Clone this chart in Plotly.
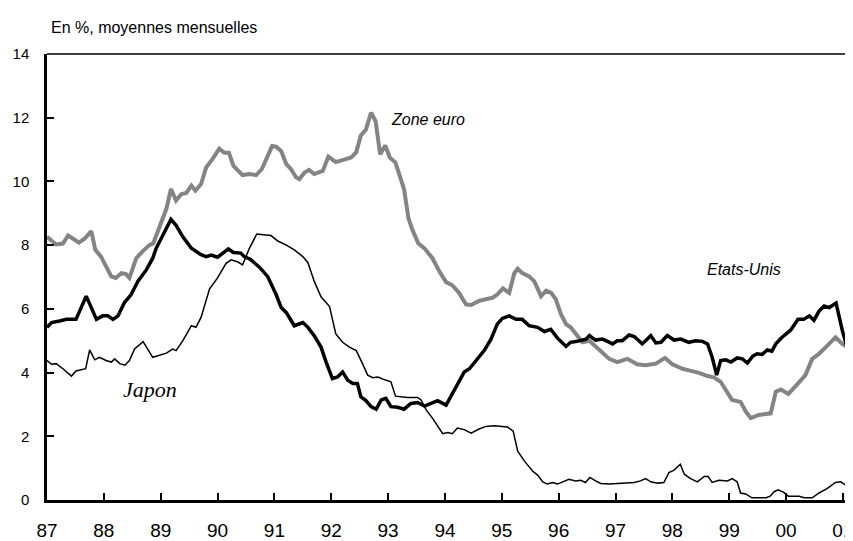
import plotly.graph_objects as go

# ---- axis ticks ----
tick_years = list(range(1987, 2002))
tick_labels = ["87", "88", "89", "90", "91", "92", "93", "94", "95", "96", "97", "98", "99", "00", "01"]
y_ticks = [0, 2, 4, 6, 8, 10, 12, 14]

# ---- Zone euro (decimal year, %) ----
eu_t = [1987.00, 1987.16, 1987.28, 1987.37, 1987.46, 1987.56, 1987.66, 1987.78, 1987.85, 1987.95,
        1988.13, 1988.21, 1988.31, 1988.39, 1988.45, 1988.57, 1988.69, 1988.80, 1988.87, 1988.98,
        1989.10, 1989.18, 1989.27, 1989.36, 1989.45, 1989.54, 1989.61, 1989.71, 1989.80, 1989.91,
        1990.03, 1990.12, 1990.20, 1990.28, 1990.44, 1990.56, 1990.68, 1990.78, 1990.86, 1990.96,
        1991.03, 1991.12, 1991.21, 1991.29, 1991.38, 1991.44, 1991.53, 1991.61, 1991.70, 1991.85,
        1991.95, 1992.08, 1992.20, 1992.35, 1992.44, 1992.52, 1992.61, 1992.70, 1992.78, 1992.86,
        1992.95, 1993.03, 1993.13, 1993.20, 1993.28, 1993.36, 1993.43, 1993.53, 1993.64, 1993.78,
        1993.90, 1994.02, 1994.13, 1994.25, 1994.37, 1994.46, 1994.60, 1994.72, 1994.84, 1994.92,
        1995.02, 1995.13, 1995.22, 1995.28, 1995.36, 1995.48, 1995.57, 1995.69, 1995.78, 1995.87,
        1995.95, 1996.04, 1996.13, 1996.21, 1996.30, 1996.42, 1996.54, 1996.65, 1996.77, 1996.89,
        1997.03, 1997.21, 1997.38, 1997.53, 1997.71, 1997.87, 1998.00, 1998.18, 1998.29, 1998.47,
        1998.62, 1998.73, 1998.85, 1998.97, 1999.05, 1999.20, 1999.29, 1999.38, 1999.52, 1999.73,
        1999.82, 1999.91, 2000.04, 2000.20, 2000.34, 2000.46, 2000.58, 2000.70, 2000.87, 2000.99,
        2001.16]
eu_v = [8.26, 8.02, 8.05, 8.30, 8.20, 8.08, 8.20, 8.44, 7.85, 7.64,
        7.02, 6.97, 7.12, 7.09, 6.97, 7.59, 7.82, 8.00, 8.06, 8.57,
        9.14, 9.76, 9.40, 9.60, 9.64, 9.87, 9.71, 9.92, 10.44, 10.70,
        11.03, 10.90, 10.90, 10.49, 10.20, 10.23, 10.20, 10.39, 10.70, 11.11,
        11.09, 10.95, 10.54, 10.39, 10.13, 10.07, 10.28, 10.36, 10.23, 10.33,
        10.78, 10.61, 10.67, 10.75, 10.92, 11.44, 11.63, 12.16, 11.89, 10.85,
        11.13, 10.75, 10.59, 10.23, 9.76, 8.83, 8.47, 8.06, 7.90, 7.59,
        7.18, 6.84, 6.74, 6.50, 6.14, 6.12, 6.25, 6.30, 6.35, 6.45,
        6.64, 6.50, 7.12, 7.26, 7.12, 7.02, 6.87, 6.40, 6.57, 6.50,
        6.30, 5.83, 5.52, 5.42, 5.21, 4.95, 5.00, 4.82, 4.59, 4.43,
        4.33, 4.43, 4.26, 4.23, 4.28, 4.46, 4.26, 4.12, 4.07, 3.99,
        3.89, 3.85, 3.71, 3.40, 3.14, 3.08, 2.78, 2.57, 2.67, 2.72,
        3.40, 3.47, 3.33, 3.64, 3.92, 4.43, 4.59, 4.80, 5.11, 4.90,
        4.70]

# ---- Etats-Unis ----
us_t = [1987.00, 1987.08, 1987.22, 1987.34, 1987.51, 1987.69, 1987.87, 1987.98, 1988.07, 1988.16,
        1988.25, 1988.36, 1988.48, 1988.60, 1988.75, 1988.86, 1988.92, 1989.04, 1989.18, 1989.27,
        1989.39, 1989.54, 1989.62, 1989.71, 1989.80, 1989.89, 1990.00, 1990.09, 1990.19, 1990.28,
        1990.41, 1990.47, 1990.58, 1990.74, 1990.88, 1991.03, 1991.12, 1991.21, 1991.35, 1991.50,
        1991.59, 1991.70, 1991.82, 1991.91, 1991.97, 1992.02, 1992.11, 1992.20, 1992.29, 1992.38,
        1992.46, 1992.52, 1992.61, 1992.70, 1992.79, 1992.88, 1992.96, 1993.05, 1993.17, 1993.28,
        1993.40, 1993.52, 1993.64, 1993.75, 1993.87, 1994.02, 1994.11, 1994.22, 1994.34, 1994.43,
        1994.54, 1994.69, 1994.81, 1994.92, 1995.01, 1995.13, 1995.25, 1995.36, 1995.48, 1995.63,
        1995.75, 1995.86, 1995.98, 1996.13, 1996.21, 1996.33, 1996.48, 1996.54, 1996.65, 1996.77,
        1996.86, 1996.95, 1997.03, 1997.12, 1997.24, 1997.33, 1997.47, 1997.62, 1997.71, 1997.80,
        1997.91, 1998.03, 1998.15, 1998.29, 1998.41, 1998.53, 1998.62, 1998.70, 1998.78, 1998.85,
        1998.94, 1999.03, 1999.14, 1999.23, 1999.32, 1999.41, 1999.49, 1999.58, 1999.67, 1999.75,
        1999.82, 1999.93, 2000.08, 2000.21, 2000.31, 2000.41, 2000.49, 2000.58, 2000.67, 2000.76,
        2000.88, 2000.99, 2001.08, 2001.16]
us_v = [5.42, 5.57, 5.62, 5.67, 5.67, 6.40, 5.67, 5.78, 5.78, 5.67,
        5.78, 6.19, 6.45, 6.87, 7.23, 7.59, 7.90, 8.31, 8.81, 8.62,
        8.26, 7.90, 7.80, 7.70, 7.64, 7.69, 7.62, 7.73, 7.88, 7.77,
        7.75, 7.64, 7.55, 7.30, 7.02, 6.45, 6.04, 5.88, 5.47, 5.57,
        5.42, 5.16, 4.80, 4.33, 4.02, 3.81, 3.86, 4.02, 3.76, 3.66,
        3.66, 3.24, 3.12, 2.93, 2.85, 3.14, 3.19, 2.93, 2.91, 2.85,
        3.03, 3.06, 2.95, 3.03, 3.12, 2.98, 3.26, 3.61, 4.02, 4.12,
        4.38, 4.69, 5.05, 5.52, 5.70, 5.78, 5.67, 5.67, 5.47, 5.42,
        5.29, 5.36, 5.08, 4.82, 4.95, 4.98, 5.05, 5.16, 5.02, 5.05,
        4.98, 4.90, 5.00, 5.00, 5.18, 5.13, 4.90, 5.16, 4.93, 4.95,
        5.16, 5.02, 5.05, 4.95, 5.00, 4.98, 4.90, 4.48, 3.92, 4.38,
        4.40, 4.33, 4.46, 4.43, 4.30, 4.51, 4.59, 4.57, 4.71, 4.67,
        4.90, 5.11, 5.33, 5.67, 5.67, 5.78, 5.64, 5.93, 6.09, 6.04,
        6.18, 5.32, 4.75, 4.50]

# ---- Japon ----
jp_t = [1987.00, 1987.08, 1987.16, 1987.28, 1987.43, 1987.51, 1987.68, 1987.75, 1987.84, 1987.92,
        1988.04, 1988.13, 1988.19, 1988.28, 1988.37, 1988.45, 1988.54, 1988.69, 1988.86, 1988.98,
        1989.10, 1989.21, 1989.27, 1989.39, 1989.54, 1989.62, 1989.71, 1989.86, 1990.00, 1990.15,
        1990.24, 1990.36, 1990.44, 1990.56, 1990.69, 1990.85, 1990.94, 1991.06, 1991.21, 1991.35,
        1991.50, 1991.59, 1991.70, 1991.82, 1991.97, 1992.08, 1992.20, 1992.32, 1992.44, 1992.55,
        1992.64, 1992.73, 1992.82, 1992.93, 1993.05, 1993.13, 1993.23, 1993.34, 1993.52, 1993.58,
        1993.67, 1993.78, 1993.96, 1994.05, 1994.13, 1994.22, 1994.34, 1994.46, 1994.60, 1994.72,
        1994.87, 1994.98, 1995.10, 1995.20, 1995.28, 1995.40, 1995.54, 1995.63, 1995.72, 1995.80,
        1995.89, 1995.98, 1996.07, 1996.18, 1996.30, 1996.39, 1996.47, 1996.55, 1996.65, 1996.74,
        1996.89, 1997.06, 1997.18, 1997.33, 1997.44, 1997.53, 1997.62, 1997.74, 1997.85, 1997.94,
        1998.03, 1998.14, 1998.21, 1998.32, 1998.44, 1998.56, 1998.63, 1998.70, 1998.82, 1998.97,
        1999.05, 1999.14, 1999.20, 1999.29, 1999.40, 1999.65, 1999.72, 1999.79, 1999.86, 1999.96,
        2000.04, 2000.14, 2000.23, 2000.32, 2000.46, 2000.58, 2000.72, 2000.87, 2000.96, 2001.05,
        2001.14, 2001.16]
jp_v = [4.38, 4.26, 4.28, 4.12, 3.89, 4.05, 4.12, 4.71, 4.40, 4.48,
        4.38, 4.33, 4.43, 4.28, 4.23, 4.38, 4.74, 4.97, 4.48, 4.54,
        4.61, 4.74, 4.69, 5.00, 5.47, 5.42, 5.73, 6.63, 6.97, 7.43,
        7.54, 7.47, 7.38, 7.90, 8.35, 8.32, 8.30, 8.13, 8.00, 7.85,
        7.64, 7.45, 6.87, 6.38, 6.07, 5.21, 4.95, 4.80, 4.69, 4.28,
        3.92, 3.84, 3.86, 3.78, 3.71, 3.26, 3.24, 3.22, 3.22, 3.14,
        2.83, 2.57, 2.08, 2.12, 2.08, 2.26, 2.21, 2.10, 2.23, 2.31,
        2.33, 2.31, 2.29, 2.16, 1.53, 1.22, 0.91, 0.78, 0.57, 0.50,
        0.55, 0.50, 0.57, 0.65, 0.60, 0.62, 0.55, 0.71, 0.60, 0.52,
        0.50, 0.52, 0.55, 0.55, 0.60, 0.67, 0.57, 0.53, 0.55, 0.86,
        0.94, 1.12, 0.81, 0.67, 0.57, 0.74, 0.74, 0.55, 0.62, 0.60,
        0.67, 0.57, 0.22, 0.19, 0.07, 0.07, 0.12, 0.26, 0.32, 0.24,
        0.12, 0.11, 0.12, 0.07, 0.07, 0.22, 0.36, 0.55, 0.57, 0.47,
        0.39, 0.29]

fig = go.Figure()
fig.add_trace(go.Scatter(x=eu_t, y=eu_v, mode="lines", name="Zone euro",
                         line=dict(color="#848484", width=4)))
fig.add_trace(go.Scatter(x=jp_t, y=jp_v, mode="lines", name="Japon",
                         line=dict(color="black", width=1.5)))
fig.add_trace(go.Scatter(x=us_t, y=us_v, mode="lines", name="Etats-Unis",
                         line=dict(color="black", width=3.5)))

# the page body adds an 8px margin, so the figure is sized to fit the window
fig.update_layout(
    width=845, height=533,
    margin=dict(l=39, r=0, t=46, b=36),
    showlegend=False,
    plot_bgcolor="white", paper_bgcolor="white",
    font=dict(family="Liberation Sans, Arial, sans-serif", color="black"),
)
fig.update_xaxes(
    range=[1987, 2001.16], tickvals=tick_years, ticktext=tick_labels,
    ticks="inside", ticklen=7, tickwidth=1.5, tickcolor="black",
    showline=True, linecolor="black", linewidth=3,
    showgrid=False, zeroline=False,
    tickfont=dict(family="Liberation Sans Narrow, Liberation Sans, Arial", size=19, color="black"),
    ticklabelstandoff=11,
    ticklabeloverflow="allow",
)
fig.update_yaxes(
    range=[0, 14], tickvals=y_ticks,
    ticks="inside", ticklen=7, tickwidth=1.5, tickcolor="black",
    showline=True, linecolor="black", linewidth=2.5,
    showgrid=False, zeroline=False,
    tickfont=dict(family="Liberation Sans, Arial", size=15, color="black"),
    ticklabelstandoff=12,
)

fig.add_shape(type="line", xref="paper", yref="paper", x0=0, x1=1, y0=1, y1=1,
              line=dict(color="black", width=1.5))

fig.add_annotation(text="En %, moyennes mensuelles", xref="paper", yref="paper",
                   x=0.002, y=1.06, xanchor="left", yanchor="middle", showarrow=False,
                   font=dict(family="Liberation Sans, Arial", size=16, color="black"))
fig.add_annotation(text="<i>Zone euro</i>", x=1993.70, y=11.94, showarrow=False,
                   xanchor="center", yanchor="middle",
                   font=dict(family="Liberation Sans, Arial", size=16, color="black"))
fig.add_annotation(text="<i>Etats-Unis</i>", x=1999.26, y=7.23, showarrow=False,
                   xanchor="center", yanchor="middle",
                   font=dict(family="Liberation Sans, Arial", size=16, color="black"))
fig.add_annotation(text="<i>Japon</i>", x=1988.82, y=3.47, showarrow=False,
                   xanchor="center", yanchor="middle",
                   font=dict(family="Liberation Serif, Times New Roman, serif", size=22, color="black"))

fig.write_html("out.html")
